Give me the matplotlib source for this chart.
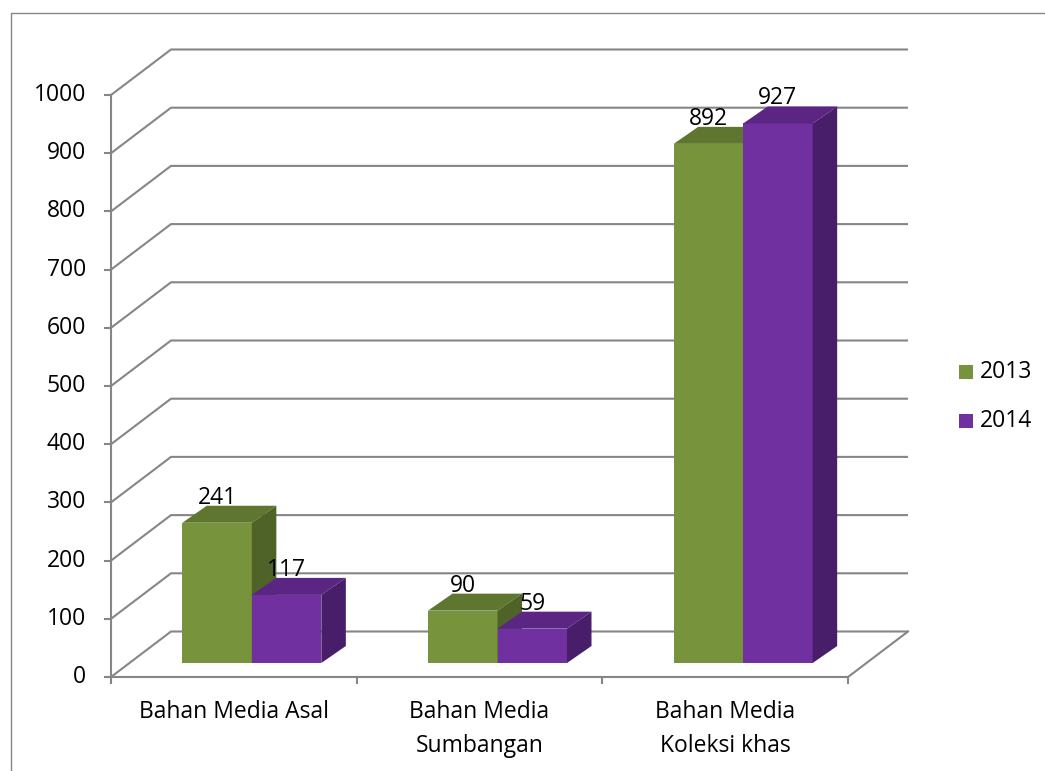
import matplotlib
matplotlib.use("Agg")
import matplotlib.pyplot as plt
from matplotlib.patches import Polygon, Rectangle
from matplotlib.lines import Line2D

# ---- data ----
categories = ["Bahan Media Asal", "Bahan Media\nSumbangan", "Bahan Media\nKoleksi khas"]
series_names = ["2013", "2014"]
values_2013 = [241, 90, 892]
values_2014 = [117, 59, 927]
y_ticks = [0, 100, 200, 300, 400, 500, 600, 700, 800, 900, 1000]

# ---- styles ----
W, H = 1045, 771
FONT = "Open Sans"
FS = 16.5
GRID = "#868686"
face_cols = {"2013": ("#77933C", "#5F7631", "#4F6228"),
             "2014": ("#7030A0", "#5A2583", "#481E6B")}

# pixel geometry of the plot frame
PX_X0, PX_Y0 = 111, 677      # front origin (pixels, from top)
PX_PER_CAT = 245.67
PX_PER_VAL = 0.582

fig = plt.figure(figsize=(W / 100, H / 100), dpi=100)
ax = fig.add_axes([0, 0, 1, 1])
ax.set_xlim(-PX_X0 / PX_PER_CAT, (W - PX_X0) / PX_PER_CAT)
ax.set_ylim(-(H - PX_Y0) / PX_PER_VAL, PX_Y0 / PX_PER_VAL)
ax.axis("off")

def dxp(p):  # pixels -> category units
    return p / PX_PER_CAT

def dyp(p):  # pixels -> value units
    return p / PX_PER_VAL

n = len(categories)
WALL_DX, WALL_DY = dxp(60), dyp(45.5)
BAR_OFF_X, BAR_OFF_Y = dxp(18), dyp(14)
BAR_DX, BAR_DY = dxp(24.5), dyp(17)
BAR_W = dxp(69.5)
ymax = y_ticks[-1]

# outer border
fig.add_artist(Line2D([11 / W, 11 / W, 1.0], [0, 1 - 13 / H, 1 - 13 / H],
                      transform=fig.transFigure, color=GRID, lw=1.0))

# back wall gridlines + left diagonals
for v in y_ticks:
    ax.plot([0, WALL_DX, n + WALL_DX], [v, v + WALL_DY, v + WALL_DY],
            color=GRID, lw=1.5, solid_capstyle="butt", zorder=1)
    ax.plot([-dxp(6), 0], [v, v], color=GRID, lw=1.5, zorder=1)
    ax.text(-dxp(25), v, str(v), ha="right", va="center",
            fontsize=FS, family=FONT, color="black")

# front vertical axis
ax.plot([0, 0], [0, ymax], color=GRID, lw=1.5, zorder=1)
# floor front edge and right diagonal
ax.plot([0, n, n + WALL_DX], [0, 0, WALL_DY], color=GRID, lw=1.5, zorder=1)
for i in range(n + 1):
    ax.plot([i, i], [0, -dyp(6)], color=GRID, lw=1.5, zorder=1)

# bars
series_vals = [values_2013, values_2014]
for i in range(n):
    for s, (name, vals) in enumerate(zip(series_names, series_vals)):
        v = vals[i]
        x0 = i + 0.5 - BAR_W + s * BAR_W + BAR_OFF_X
        y0 = BAR_OFF_Y
        front, top, side = face_cols[name]
        ax.add_patch(Rectangle((x0, y0), BAR_W, v, facecolor=front,
                               edgecolor="none", zorder=3))
        ax.add_patch(Polygon([(x0, y0 + v), (x0 + BAR_W, y0 + v),
                              (x0 + BAR_W + BAR_DX, y0 + v + BAR_DY),
                              (x0 + BAR_DX, y0 + v + BAR_DY)],
                             closed=True, facecolor=top, edgecolor="none", zorder=3))
        ax.add_patch(Polygon([(x0 + BAR_W, y0), (x0 + BAR_W + BAR_DX, y0 + BAR_DY),
                              (x0 + BAR_W + BAR_DX, y0 + v + BAR_DY),
                              (x0 + BAR_W, y0 + v)],
                             closed=True, facecolor=side, edgecolor="none", zorder=3))
        ax.text(x0 + BAR_W / 2, y0 + v + dyp(19), str(v), ha="center",
                va="baseline", fontsize=FS, family=FONT, color="black", zorder=5)

# category labels
for i, lab in enumerate(categories):
    for k, line in enumerate(lab.split("\n")):
        ax.text(i + 0.5, -dyp(718 - PX_Y0 + 34 * k), line, ha="center",
                va="baseline", fontsize=FS, family=FONT, color="black")

# legend
leg_y = [372, 421]
for name, py in zip(series_names, leg_y):
    fig.add_artist(Rectangle((959 / W, 1 - (py + 7) / H), 14 / W, 14 / H,
                             transform=fig.transFigure, facecolor=face_cols[name][0],
                             edgecolor="none"))
    fig.text(980 / W, 1 - py / H, name, ha="left", va="center",
             fontsize=FS, family=FONT, color="black")

fig.savefig("out.png", dpi=100)
